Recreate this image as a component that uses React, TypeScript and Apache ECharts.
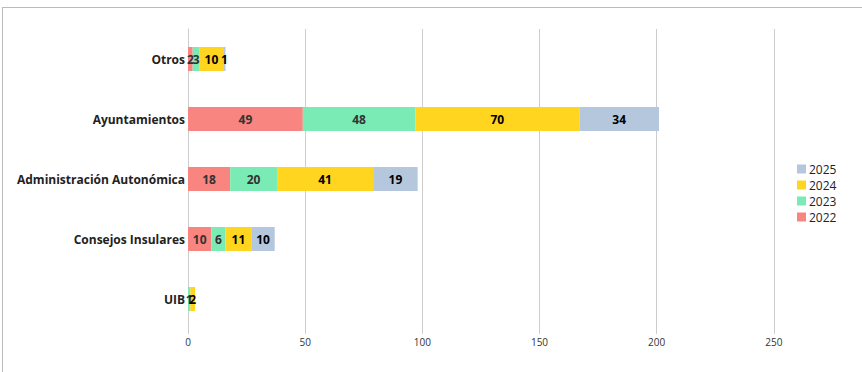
import React, { useEffect, useRef } from "react";
import * as echarts from "echarts";

const categories = ["UIB", "Consejos Insulares", "Administración Autonómica", "Ayuntamientos", "Otros"];
const years = ["2022", "2023", "2024", "2025"];
const v2022 = [0, 10, 18, 49, 2];
const v2023 = [1, 6, 20, 48, 3];
const v2024 = [2, 11, 41, 70, 10];
const v2025 = [0, 10, 19, 34, 1];
const colors = ["#F88580", "#7AEBB5", "#FFD520", "#B5C7DD"];
const labelColors = ["#333", "#333", "#000", "#000"];
const xTicks = [0, 50, 100, 150, 200, 250];

export default function App() {
  const ref = useRef<HTMLDivElement>(null);
  useEffect(() => {
    const chart = echarts.init(ref.current!, null, { renderer: "svg" });
    const values = [v2022, v2023, v2024, v2025];
    chart.setOption({
      animation: false,
      textStyle: { fontFamily: "Open Sans" },
      grid: { left: 188, right: 9, top: 29, bottom: 43, containLabel: false },
      legend: {
        orient: "vertical",
        left: 792,
        top: 158,
        itemWidth: 9,
        itemHeight: 9,
        itemGap: 4,
        icon: "rect",
        data: ["2025", "2024", "2023", "2022"],
        textStyle: { fontSize: 12, color: "#222", fontFamily: "Open Sans", padding: [0, 0, 0, -2] },
      },
      xAxis: {
        type: "value",
        min: 0,
        max: 300,
        interval: 50,
        axisLine: { show: false },
        axisTick: { show: true, length: 5, lineStyle: { color: "#ccc" } },
        axisLabel: {
          fontSize: 10,
          color: "#333",
          margin: 8,
          formatter: (v: number) => (xTicks.includes(v) ? String(v) : ""),
        },
        splitLine: { show: true, lineStyle: { color: "#ccc" } },
      },
      yAxis: {
        type: "category",
        data: categories,
        axisLine: { show: true, lineStyle: { color: "#ccc" } },
        axisTick: { show: false },
        axisLabel: { fontSize: 12, fontWeight: "bold", color: "#222", margin: 3, fontFamily: "Open Sans" },
      },
      series: years.map((y, i) => ({
        name: y,
        type: "bar",
        stack: "total",
        barWidth: 24,
        data: values[i],
        itemStyle: { color: colors[i] },
        label: {
          show: true,
          position: "inside",
          fontSize: 12,
          fontWeight: "bold",
          color: labelColors[i],
          fontFamily: "Open Sans",
          formatter: (p: any) => (p.value === 0 ? "" : String(p.value)),
        },
      })),
    });
    return () => chart.dispose();
  }, []);
  return (
    <div style={{ position: "fixed", left: 0, top: 0, width: 862, height: 372, background: "#fff", overflow: "hidden" }}>
      <div style={{ position: "absolute", left: 2, top: 7, width: 900, height: 400, borderTop: "1px solid #bbb", borderLeft: "1px solid #bbb" }} />
      <div ref={ref} style={{ position: "absolute", left: 0, top: 0, width: 900, height: 372 }} />
    </div>
  );
}
